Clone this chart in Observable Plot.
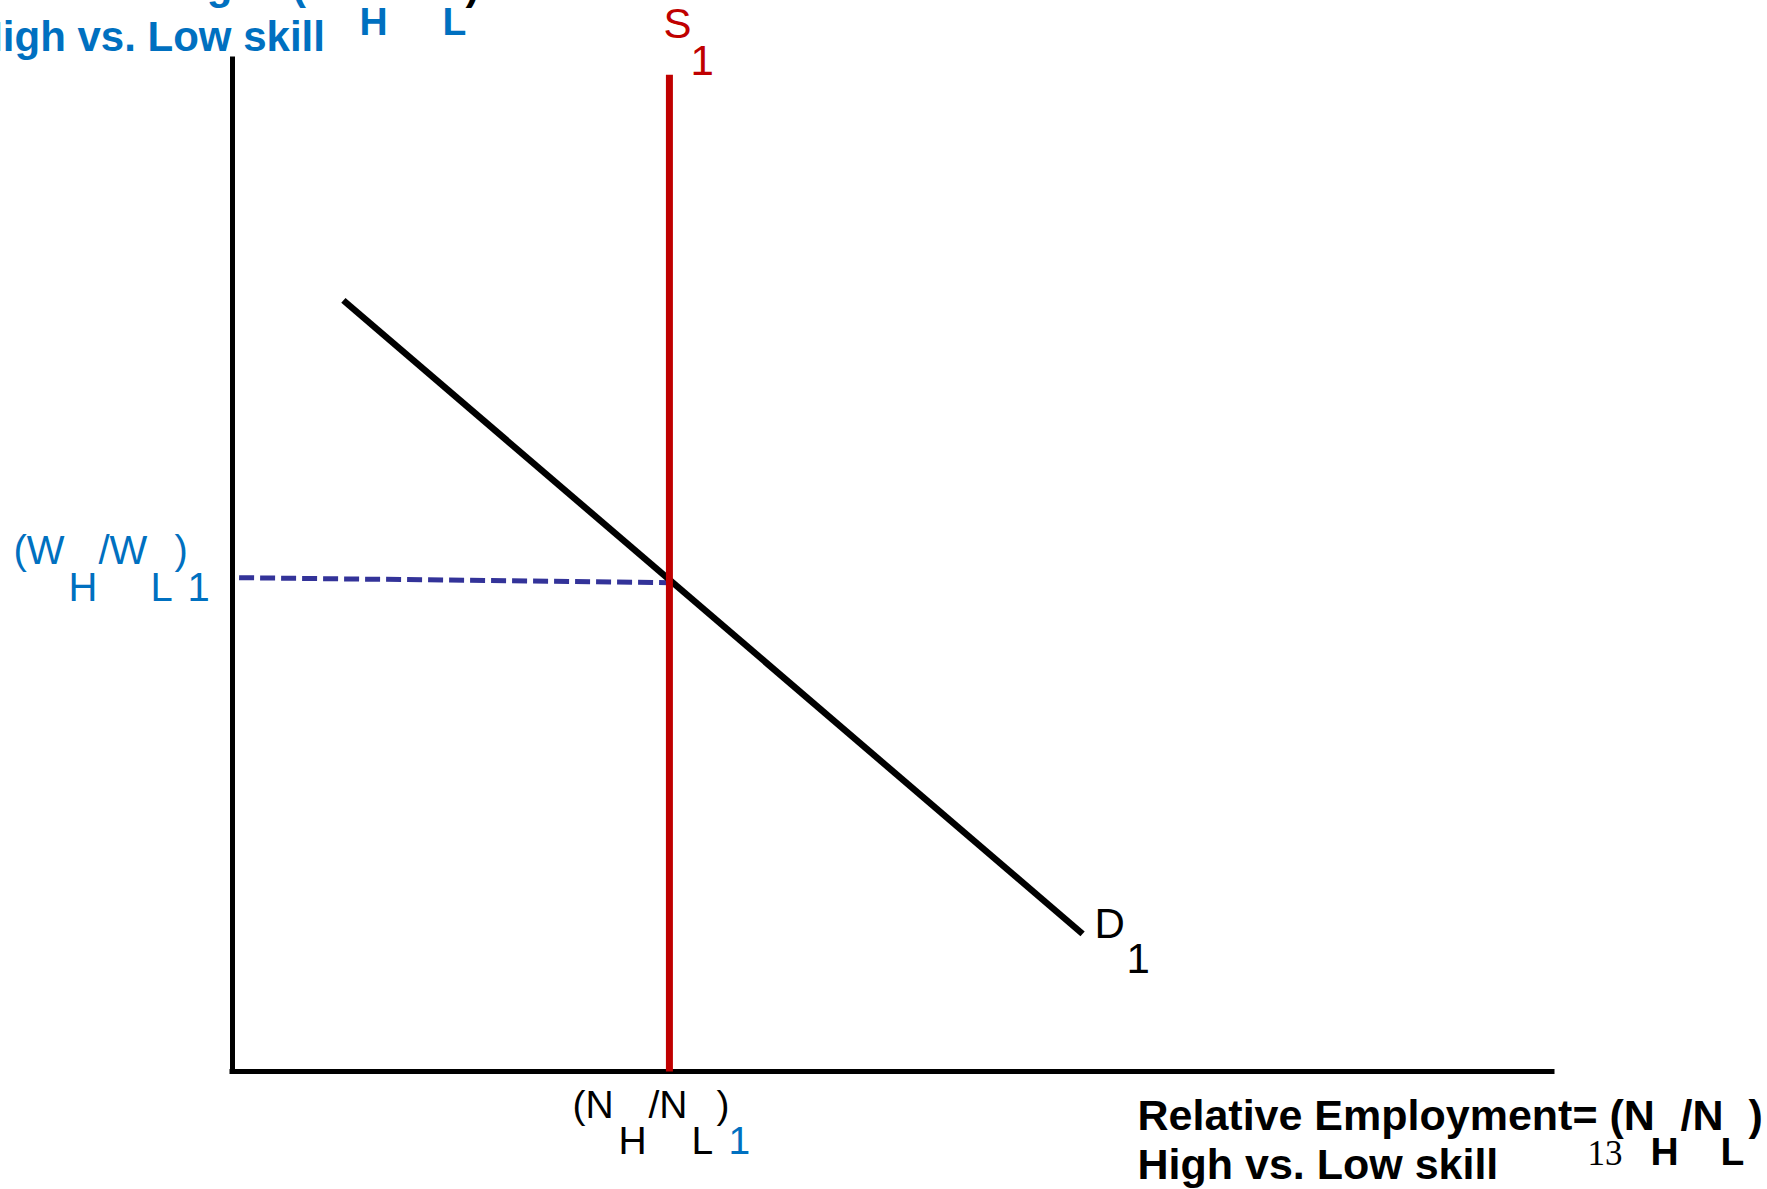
<!DOCTYPE html>
<html><head><meta charset="utf-8">
<script src="https://cdn.jsdelivr.net/npm/d3@7"></script>
<script src="https://cdn.jsdelivr.net/npm/@observablehq/plot@0.6"></script>
<style>
html,body{margin:0;padding:0;background:#fff;overflow:hidden;}
#chart svg{overflow:hidden;display:block;}
</style></head><body><div id="chart"></div>
<script>
// ---- data ----
const supplyX = [3.31, 3.31];
const supplyY = [0, 9.85];
const demandX = [0.84, 6.44];
const demandY = [7.62, 1.36];
const wageLineX = [0.05, 3.31];
const wageLineY = [4.88, 4.83];
const equilibriumEmployment = 3.31;
const equilibriumWage = 4.85;
const supplyLabel = ["S", "1"];
const demandLabel = ["D", "1"];
const wageTickLabel = ["(W", "H", "/W", "L", ")", "1"];
const employmentTickLabel = ["(N", "H", "/N", "L", ")", "1"];
const xTitle = ["Relative Employment= (N", "H", "/N", "L", ")", "High vs. Low skill"];
const yTitle = ["Relative Wage= (W", "H", "/W", "L", ")", "High vs. Low skill"];
const slideNumber = ["13"];

// ---- styles ----
const SANS = "Liberation Sans, Arial, Helvetica, sans-serif";
const SERIF = "Liberation Serif, Times New Roman, serif";
const BLUE = "#0070C0", RED = "#C00000", DASH = "#333399";

const pts = (xs, ys) => xs.map((x, i) => ({x, y: ys[i]}));

function frag(text, x, y, dx, dy, o = {}) {
  return Plot.text([{x, y, t: text}], {
    x: "x", y: "y", text: "t", dx, dy,
    textAnchor: "start", lineAnchor: "bottom",
    fill: o.fill ?? "black",
    fontSize: o.size ?? 40,
    fontWeight: o.weight ?? "normal",
    fontFamily: o.family ?? SANS
  });
}

const xMax = 10, yMax = 10;
const marks = [
  // axes
  Plot.ruleX([0], {y1: 0, y2: yMax, stroke: "black", strokeWidth: 5, strokeLinecap: "square",
    style: "filter: drop-shadow(2px 2px 2px rgba(0,0,0,0.35))"}),
  Plot.ruleY([0], {x1: 0, x2: xMax, stroke: "black", strokeWidth: 5, strokeLinecap: "square",
    style: "filter: drop-shadow(1px 3px 2px rgba(0,0,0,0.35))"}),
  // equilibrium wage dashed line
  Plot.line(pts(wageLineX, wageLineY), {x: "x", y: "y", stroke: DASH, strokeWidth: 5,
    strokeDasharray: "15,6", strokeLinecap: "butt",
    style: "filter: drop-shadow(0px 2px 1px rgba(120,190,200,0.6))"}),
  // demand
  Plot.line(pts(demandX, demandY), {x: "x", y: "y", stroke: "black", strokeWidth: 6.5, strokeLinecap: "butt",
    style: "filter: drop-shadow(2px 3px 2px rgba(0,0,0,0.35))"}),
  // supply
  Plot.line(pts(supplyX, supplyY), {x: "x", y: "y", stroke: RED, strokeWidth: 7, strokeLinecap: "butt"}),

  // S1
  frag(supplyLabel[0], supplyX[1], supplyY[1], -6, -37, {fill: RED, size: 42}),
  frag(supplyLabel[1], supplyX[1], supplyY[1], 21, 0, {fill: RED, size: 42}),
  // D1
  frag(demandLabel[0], demandX[1], demandY[1], 12, 4, {size: 42}),
  frag(demandLabel[1], demandX[1], demandY[1], 44, 39, {size: 42}),

  // y tick label (W_H/W_L)1
  frag(wageTickLabel[0], 0, equilibriumWage, -219, -17, {fill: BLUE}),
  frag(wageTickLabel[1], 0, equilibriumWage, -164, 20, {fill: BLUE}),
  frag(wageTickLabel[2], 0, equilibriumWage, -134, -17, {fill: BLUE}),
  frag(wageTickLabel[3], 0, equilibriumWage, -82, 20, {fill: BLUE}),
  frag(wageTickLabel[4], 0, equilibriumWage, -58, -17, {fill: BLUE}),
  frag(wageTickLabel[5], 0, equilibriumWage, -45, 20, {fill: BLUE}),

  // x tick label (N_H/N_L)1
  frag(employmentTickLabel[0], equilibriumEmployment, 0, -97, 46, {size: 39}),
  frag(employmentTickLabel[1], equilibriumEmployment, 0, -51, 82, {size: 39}),
  frag(employmentTickLabel[2], equilibriumEmployment, 0, -21, 46, {size: 39}),
  frag(employmentTickLabel[3], equilibriumEmployment, 0, 22, 82, {size: 39}),
  frag(employmentTickLabel[4], equilibriumEmployment, 0, 47, 46, {size: 39}),
  frag(employmentTickLabel[5], equilibriumEmployment, 0, 59, 82, {size: 39, fill: BLUE}),

  // x axis title
  frag(xTitle[0], xMax, 0, -415, 58, {size: 43, weight: "bold"}),
  frag(xTitle[1], xMax, 0, 98, 93, {size: 39, weight: "bold"}),
  frag(xTitle[2], xMax, 0, 128, 58, {size: 43, weight: "bold"}),
  frag(xTitle[3], xMax, 0, 168, 93, {size: 39, weight: "bold"}),
  frag(xTitle[4], xMax, 0, 196, 58, {size: 43, weight: "bold"}),
  frag(xTitle[5], xMax, 0, -415, 107, {size: 43, weight: "bold"}),
  frag(slideNumber[0], xMax, 0, 35, 93, {size: 35, family: SERIF}),

  // y axis title (cut off at the top-left, as in the source slide)
  frag(yTitle[0], 0, yMax, -260, -61, {size: 42, weight: "bold", fill: BLUE}),
  frag(yTitle[1], 0, yMax, 127, -25, {size: 39, weight: "bold", fill: BLUE}),
  frag(yTitle[2], 0, yMax, 156, -61, {size: 42, weight: "bold", fill: BLUE}),
  frag(yTitle[3], 0, yMax, 210, -25, {size: 39, weight: "bold", fill: BLUE}),
  frag(yTitle[4], 0, yMax, 233, -61, {size: 42, weight: "bold"}),
  frag(yTitle[5], 0, yMax, -260, -9, {size: 42, weight: "bold", fill: BLUE})
];

const chart = Plot.plot({
  width: 1767, height: 1189,
  marginLeft: 232, marginRight: 215, marginTop: 59, marginBottom: 118,
  x: {domain: [0, xMax], axis: null},
  y: {domain: [0, yMax], axis: null},
  style: {background: "white", overflow: "hidden"},
  marks
});
document.getElementById("chart").appendChild(chart);
</script></body></html>
